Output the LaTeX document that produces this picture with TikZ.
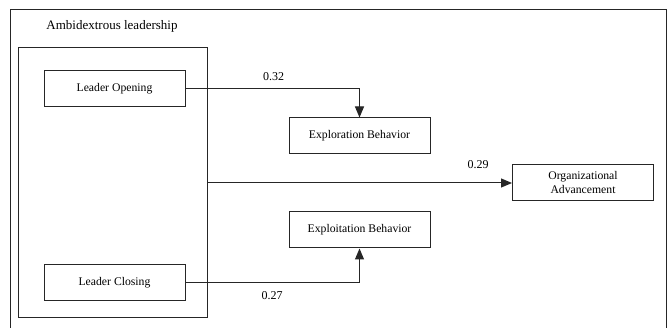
\documentclass[tikz,border=0pt]{standalone}
\usepackage{fontspec}
\setmainfont{Liberation Serif}
\usetikzlibrary{arrows.meta}
\begin{document}
\begin{tikzpicture}[x=1pt,y=-1pt,
  box/.style={draw=black!85,line width=1pt,fill=white,minimum width=141pt,minimum height=36pt,inner sep=0pt,font=\fontsize{11.7}{13}\selectfont,align=center},
  conn/.style={draw=black!85,line width=1pt},
  tip/.style={-{Triangle[length=11pt,width=9pt]}},
  lbl/.style={font=\fontsize{12}{13}\selectfont,inner sep=0pt}]
\clip (0,0) rectangle (669,328);
\fill[white] (0,0) rectangle (669,328);
\draw[conn] (10,340) -- (10,10) -- (666,10) -- (666,340);
\node[lbl,font=\fontsize{13}{14}\selectfont] (title) at (112,26) {Ambidextrous leadership};
\node[draw=black!85,line width=1pt,minimum width=189pt,minimum height=270pt,inner sep=0pt] (amb) at (112.5,183) {};
\node[box] (lo) at (114.5,89) {Leader Opening};
\node[box] (lc) at (114.5,283) {Leader Closing};
\node[box] (expr) at (359.5,136) {Exploration Behavior};
\node[box] (expt) at (359.5,230) {Exploitation Behavior};
\node[box,font=\fontsize{11.7}{14}\selectfont] (org) at (583,183) {Organizational\\Advancement};
\draw[conn,tip] (lo.east) -| (expr.north);
\draw[conn,tip] (lc.east) -| (expt.south);
\draw[conn,tip] (amb.east) -- (org.west);
\node[lbl] (l1) at (273.5,77) {0.32};
\node[lbl] (l2) at (478,164.5) {0.29};
\node[lbl] (l3) at (272,296) {0.27};
\end{tikzpicture}
\end{document}
